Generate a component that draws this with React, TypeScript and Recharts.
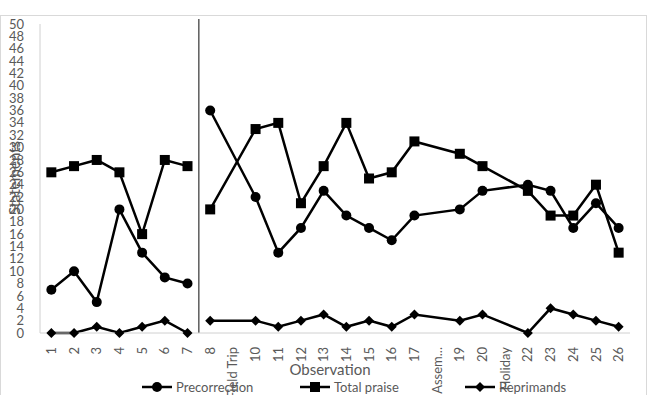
import { Line, LineChart, ReferenceLine, XAxis, YAxis } from "recharts"

const observations = ['1','2','3','4','5','6','7','8','Field Trip','10','11','12','13','14','15','16','17','Assem...','19','20','Holiday','22','23','24','25','26']
const precorrection = [7,10,5,20,13,9,8, 36,null,22,13,17,23,19,17,15,19,null,20,23,null,24,23,17,21,17]
const totalPraise = [26,27,28,26,16,28,27, 20,null,33,34,21,27,34,25,26,31,null,29,27,null,23,19,19,24,13]
const reprimands = [0,0,1,0,1,2,0, 2,null,2,1,2,3,1,2,1,3,null,2,3,null,0,4,3,2,1]
const phaseOneLength = 7
const yTicks = Array.from({length: 26}, (_, i) => i * 2)

const chartData = observations.map((name, i) => {
    const p1 = i < phaseOneLength
    return {
        x: i + 1,
        name,
        pre1: p1 ? precorrection[i] : null,
        pre2: p1 ? null : precorrection[i],
        praise1: p1 ? totalPraise[i] : null,
        praise2: p1 ? null : totalPraise[i],
        rep1: p1 ? reprimands[i] : null,
        rep2: p1 ? null : reprimands[i],
    }
})

const grey = '#595959'
const font = 'Lato, "Open Sans", sans-serif'

const Circle = (props: any) => {
    const {cx, cy, value} = props
    if (value == null || cx == null) return null
    return <circle cx={cx} cy={cy} r={5} fill="#000" />
}
const Square = (props: any) => {
    const {cx, cy, value} = props
    if (value == null || cx == null) return null
    return <rect x={cx - 5} y={cy - 5} width={10} height={10} fill="#000" />
}
const Diamond = (props: any) => {
    const {cx, cy, value} = props
    if (value == null || cx == null) return null
    return <path d={`M${cx},${cy - 5}L${cx + 5},${cy}L${cx},${cy + 5}L${cx - 5},${cy}Z`} fill="#000" />
}

const XTick = ({x, y, payload}: any) => {
    const label = observations[payload.value - 1]
    return <text x={x} y={y + 6} transform={`rotate(-90 ${x} ${y + 6})`} textAnchor="end" dy="0.35em"
        fill={grey} fontSize={13} fontFamily={font}>{label}</text>
}

const legendItems = [
    {label: 'Precorrection', Mark: Circle, x: 142},
    {label: 'Total praise', Mark: Square, x: 300},
    {label: 'Reprimands', Mark: Diamond, x: 465},
]

const App = () => {
    return <div style={{position: 'absolute', left: 0, top: 0, width: 648, height: 395, background: '#fff', overflow: 'hidden'}}>
        <div style={{position: 'absolute', left: 0, top: 15, width: 645, height: 400, border: '1px solid #d9d9d9'}} />
        <LineChart width={648} height={395} data={chartData} margin={{top: 24, right: 18, bottom: 12, left: 0}}>
            <XAxis dataKey="x" type="number" domain={[0.5, 26.5]} ticks={chartData.map(d => d.x)} interval={0}
                tick={<XTick />} tickLine={false} axisLine={{stroke: '#d0d0d0'}} height={50} />
            <YAxis domain={[0, 50]} ticks={yTicks} interval={0} width={40} tickLine={false}
                axisLine={{stroke: '#d0d0d0'}} tick={{fill: grey, fontSize: 13, fontFamily: font}} tickMargin={10} />
            <ReferenceLine segment={[{x: 7.5, y: 0}, {x: 7.5, y: 50.8}]} stroke="#333" strokeWidth={1.2} ifOverflow="visible" />
            <Line dataKey="pre1" stroke="#000" strokeWidth={2.5} dot={<Circle />} isAnimationActive={false} />
            <Line dataKey="pre2" stroke="#000" strokeWidth={2.5} dot={<Circle />} connectNulls isAnimationActive={false} />
            <Line dataKey="praise1" stroke="#000" strokeWidth={2.5} dot={<Square />} isAnimationActive={false} />
            <Line dataKey="praise2" stroke="#000" strokeWidth={2.5} dot={<Square />} connectNulls isAnimationActive={false} />
            <Line dataKey="rep1" stroke="#000" strokeWidth={2.5} dot={<Diamond />} isAnimationActive={false} />
            <Line dataKey="rep2" stroke="#000" strokeWidth={2.5} dot={<Diamond />} connectNulls isAnimationActive={false} />
            <text x={15} y={178} transform="rotate(-90 15 178)" textAnchor="middle" dy="0.35em" fill={grey}
                fontSize={15} fontFamily={font}>Statements</text>
            <text x={330} y={370} textAnchor="middle" fill={grey} fontSize={15} fontFamily={font} dy="0.35em">Observation</text>
            {legendItems.map(({label, Mark, x}) => <g key={label}>
                <line x1={x} x2={x + 30} y1={387} y2={387} stroke="#000" strokeWidth={2.5} />
                <Mark cx={x + 15} cy={387} value={1} />
                <text x={x + 34} y={387} dy="0.35em" fill={grey} fontSize={13} fontFamily={font}>{label}</text>
            </g>)}
        </LineChart>
    </div>
}

export default App
